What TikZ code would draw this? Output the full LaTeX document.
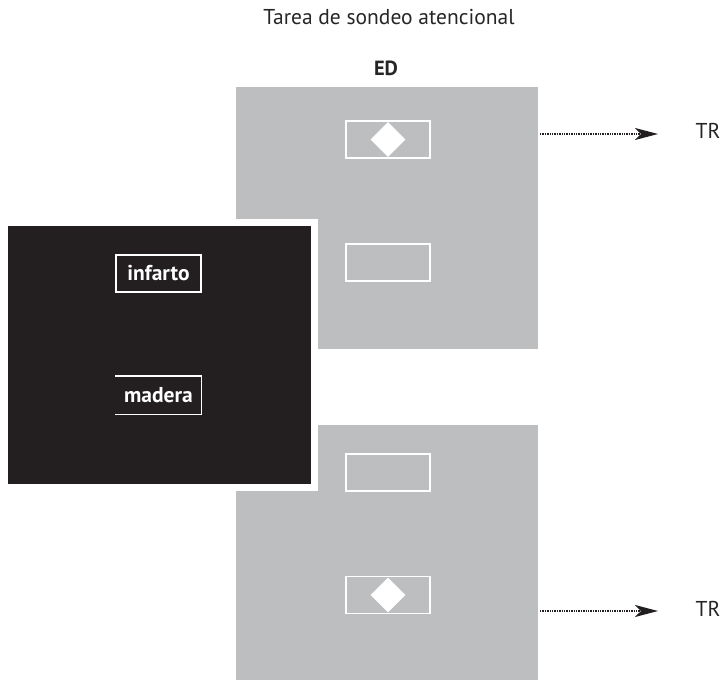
\documentclass[tikz,border=0pt]{standalone}
\usepackage{fontspec}
\setmainfont{PT Sans}
\usetikzlibrary{shapes.geometric,arrows.meta}

\definecolor{screengray}{HTML}{BCBEC0}
\definecolor{cardblack}{HTML}{231F20}

\tikzset{
  screen/.style={rectangle,fill=screengray,minimum width=302pt,minimum height=262pt,inner sep=0pt},
  slot/.style={rectangle,draw=white,line width=1.3pt,minimum width=84pt,minimum height=37pt,inner sep=0pt},
  probe/.style={diamond,fill=white,minimum size=35pt,inner sep=0pt},
  word/.style={rectangle,draw=white,line width=1.3pt,minimum width=85pt,minimum height=37pt,inner sep=0pt,
    text=white,font=\fontsize{21.5}{24}\selectfont\bfseries},
  label/.style={font=\fontsize{21.5}{24}\selectfont,text=black!85},
  rt/.style={draw=cardblack,line width=1.5pt,dash pattern=on 1.3pt off 1.1pt,
    -{Stealth[length=23pt,width=12pt,inset=6pt]}},
}

\begin{document}
\begin{tikzpicture}[x=1pt,y=-1pt]
  \useasboundingbox (0,0) rectangle (722,682);

  \node[label] (title) at (389,17) {Tarea de sondeo atencional};
  \node[label,font=\fontsize{20.5}{24}\selectfont\bfseries] (ed) at (386,68) {ED};

  % two screens, probe on top / probe at bottom
  \node[screen] (scr1) at (387,218) {};
  \node[screen,minimum height=255pt] (scr2) at (387,552.5) {};

  \node[slot] (top1) at (388,139.5) {};
  \node[probe] (dot1) at (top1) {};
  \node[slot] (bot1) at (388,262.5) {};

  \node[slot] (top2) at (388,472.5) {};
  \node[slot] (bot2) at (388,595) {};
  \node[probe] (dot2) at (bot2) {};

  % word card over the screens
  \node[rectangle,fill=cardblack,draw=white,line width=7pt,minimum width=310pt,minimum height=265pt,inner sep=0pt]
    (card) at (159.5,355) {};
  \node[word] (w1) at (158.5,273.5) {infarto};
  \node[word,draw=none] (w2) at (158.5,395) {madera};
  \draw[white,line width=1.3pt] (w2.north west) -- (w2.north east) -- (w2.south east) -- (w2.south west);

  % response times
  \node[label] (tr1) at (708,131) {TR};
  \coordinate (s1) at (540,134);
  \coordinate (e1) at (658,134);
  \draw[rt] (s1) -- (e1);

  \node[label] (tr2) at (708,609) {TR};
  \coordinate (s2) at (540,611);
  \coordinate (e2) at (658,611);
  \draw[rt] (s2) -- (e2);
\end{tikzpicture}
\end{document}
